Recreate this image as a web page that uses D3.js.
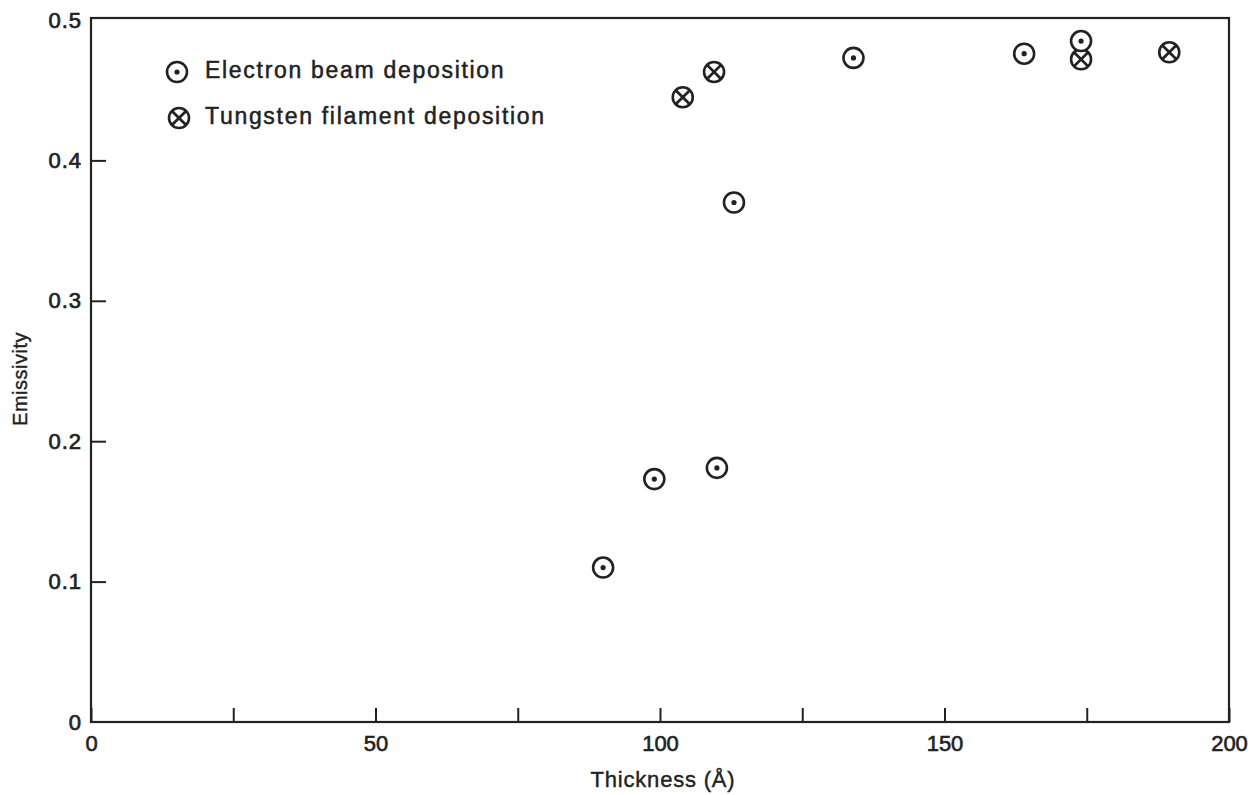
<!DOCTYPE html>
<html><head><meta charset="utf-8">
<script src="https://cdn.jsdelivr.net/npm/d3@7"></script>
<style>html,body{margin:0;padding:0;background:#fff;}svg text{font-family:"Liberation Sans",Arial,sans-serif;fill:#222;}</style>
</head><body>
<svg id="c" width="1256" height="795"></svg>
<script>
const electronX = [90, 99, 110, 113, 134, 164, 174];
const electronY = [0.110, 0.173, 0.181, 0.370, 0.473, 0.476, 0.485];
const tungstenX = [104, 109.5, 174, 189.5];
const tungstenY = [0.445, 0.463, 0.472, 0.477];
const xMajorTicks = [0, 50, 100, 150, 200];
const xMinorTicks = [25, 75, 125, 175];
const yTicks = [0, 0.1, 0.2, 0.3, 0.4, 0.5];
const legendLabels = ["Electron beam deposition", "Tungsten filament deposition"];

const svg = d3.select("#c");
const L = 91, R = 1229, T = 18, B = 722;
const x = d3.scaleLinear().domain([0, 200]).range([L, R]);
const y = d3.scaleLinear().domain([0, 0.5]).range([B, T + 2]);
const ink = "#222";

svg.append("rect").attr("x", L).attr("y", T).attr("width", R - L).attr("height", B - T)
  .attr("fill", "none").attr("stroke", ink).attr("stroke-width", 2.2);

const xAxis = d3.axisBottom(x).tickValues(xMajorTicks.concat(xMinorTicks)).tickSizeInner(-14).tickSizeOuter(0)
  .tickFormat(d => xMajorTicks.includes(d) ? d3.format("d")(d) : "");
const gx = svg.append("g").attr("transform", `translate(0,${B})`).call(xAxis);
gx.select(".domain").remove();
gx.selectAll("line").attr("stroke", ink).attr("stroke-width", 2);
gx.selectAll("text").attr("font-size", 22).attr("dy", "1.2em").attr("stroke", ink).attr("stroke-width", 0.6);

const yAxis = d3.axisLeft(y).tickValues(yTicks).tickSizeInner(-15).tickSizeOuter(0)
  .tickFormat(d => d === 0 ? "0" : d3.format(".1f")(d));
const gy = svg.append("g").attr("transform", `translate(${L},0)`).call(yAxis);
gy.select(".domain").remove();
gy.selectAll("line").attr("stroke", ink).attr("stroke-width", 2);
gy.selectAll("line").filter(d => d === 0 || d === 0.5).remove();
gy.selectAll("text").attr("font-size", 22).attr("x", -9).attr("letter-spacing", 1).attr("stroke", ink).attr("stroke-width", 0.7);

svg.append("text").attr("x", x(100) + 3).attr("y", 787).attr("text-anchor", "middle")
  .attr("font-size", 22).attr("letter-spacing", 0.8).attr("stroke", ink).attr("stroke-width", 0.4).text("Thickness (Å)");
svg.append("text").attr("transform", `translate(27,${(T + B) / 2 + 9}) rotate(-90)`).attr("text-anchor", "middle")
  .attr("font-size", 20).attr("letter-spacing", 0.5).attr("stroke", ink).attr("stroke-width", 0.4).text("Emissivity");

const r = 10;
function dotMarker(g, cx, cy) {
  g.append("circle").attr("cx", cx).attr("cy", cy).attr("r", r).attr("fill", "#fff").attr("stroke", ink).attr("stroke-width", 2.6);
  g.append("circle").attr("cx", cx).attr("cy", cy).attr("r", 2.6).attr("fill", ink);
}
function crossMarker(g, cx, cy) {
  g.append("circle").attr("cx", cx).attr("cy", cy).attr("r", r).attr("fill", "#fff").attr("stroke", ink).attr("stroke-width", 2.6);
  const k = r * Math.SQRT1_2;
  g.append("line").attr("x1", cx - k).attr("y1", cy - k).attr("x2", cx + k).attr("y2", cy + k).attr("stroke", ink).attr("stroke-width", 2.8);
  g.append("line").attr("x1", cx - k).attr("y1", cy + k).attr("x2", cx + k).attr("y2", cy - k).attr("stroke", ink).attr("stroke-width", 2.8);
}

const pts = svg.append("g");
tungstenX.forEach((v, i) => crossMarker(pts, x(v), y(tungstenY[i])));
electronX.forEach((v, i) => dotMarker(pts, x(v), y(electronY[i])));

const lg = svg.append("g");
dotMarker(lg, 177, 72);
crossMarker(lg, 179, 118);
lg.append("text").attr("x", 205).attr("y", 78).attr("font-size", 23).attr("letter-spacing", 1.7).attr("stroke", ink).attr("stroke-width", 0.5).text(legendLabels[0]);
lg.append("text").attr("x", 205).attr("y", 124).attr("font-size", 23).attr("letter-spacing", 1.7).attr("stroke", ink).attr("stroke-width", 0.5).text(legendLabels[1]);
</script>
</body></html>
